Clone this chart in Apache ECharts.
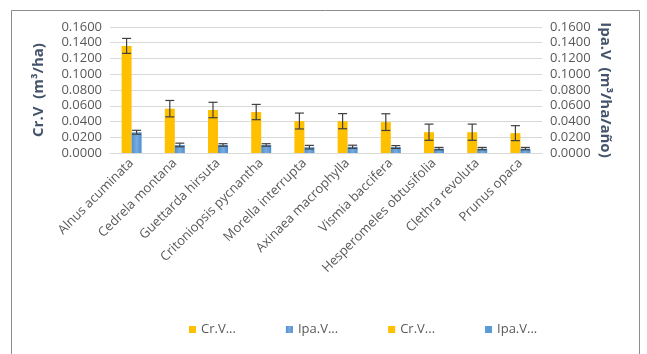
<!DOCTYPE html>
<html>
<head>
<meta charset="utf-8">
<script src="https://cdn.jsdelivr.net/npm/echarts@6/dist/echarts.min.js"></script>
<style>
  html, body { margin: 0; padding: 0; background: #fff; }
  #main { width: 647px; height: 354px; }
</style>
</head>
<body>
<div id="main"></div>
<script>
// species (x axis)
var species = ['Alnus acuminata', 'Cedrela montana', 'Guettarda hirsuta', 'Critoniopsis pycnantha',
  'Morella interrupta', 'Axinaea macrophylla', 'Vismia baccifera', 'Hesperomeles obtusifolia',
  'Clethra revoluta', 'Prunus opaca'];

// Cr.V (m3/ha) - left axis
var crValues = [0.1360, 0.0563, 0.0546, 0.0520, 0.0406, 0.0404, 0.0392, 0.0264, 0.0264, 0.0252];
var crError  = [0.0095, 0.0104, 0.0098, 0.0097, 0.0101, 0.0096, 0.0106, 0.0103, 0.0103, 0.0095];

// Ipa.V (m3/ha/año) - right axis
var ipaValues = [0.0263, 0.0102, 0.0102, 0.0102, 0.0074, 0.0079, 0.0076, 0.0056, 0.0056, 0.0056];
var ipaError  = [0.0025, 0.0023, 0.0016, 0.0016, 0.0023, 0.0020, 0.0018, 0.0015, 0.0015, 0.0015];

var BAR_W = 10;

function errorData(vals, errs) {
  return vals.map(function (v, i) { return [i, v - errs[i], v + errs[i]]; });
}

function errorRender(offset) {
  return function (params, api) {
    var lo = api.coord([api.value(0), api.value(1)]);
    var hi = api.coord([api.value(0), api.value(2)]);
    var x = lo[0] + offset;
    var cap = 4.5;
    var st = { stroke: '#404040', lineWidth: 1.2 };
    return {
      type: 'group',
      children: [
        { type: 'line', shape: { x1: x, y1: hi[1], x2: x, y2: lo[1] }, style: st },
        { type: 'line', shape: { x1: x - cap, y1: hi[1], x2: x + cap, y2: hi[1] }, style: st },
        { type: 'line', shape: { x1: x - cap, y1: lo[1], x2: x + cap, y2: lo[1] }, style: st }
      ]
    };
  };
}

var blueGrad = new echarts.graphic.LinearGradient(0, 0, 1, 0, [
  { offset: 0, color: '#4d8fd0' },
  { offset: 0.5, color: '#78abdf' },
  { offset: 1, color: '#4d8fd0' }
]);

var axisLabelStyle = {
  color: '#595959', fontSize: 13, fontFamily: 'Open Sans',
  formatter: function (v) { return v.toFixed(4); }
};

var chart = echarts.init(document.getElementById('main'));
var option = {
  animation: false,
  textStyle: { fontFamily: 'Open Sans' },
  graphic: [{
    type: 'rect',
    shape: { x: 11.5, y: 10.5, width: 628, height: 360 },
    style: { fill: 'none', stroke: '#8c8c8c', lineWidth: 1 },
    silent: true
  }],
  grid: { left: 110, right: 105, top: 27, bottom: 201 },
  legend: {
    left: 184, top: 318,
    itemWidth: 7, itemHeight: 7, itemGap: 50,
    icon: 'rect',
    textStyle: { color: '#595959', fontSize: 13 },
    formatter: function (n) { return n.indexOf('Cr') === 0 ? 'Cr.V...' : 'Ipa.V...'; },
    data: ['Cr.V (m³/ha)', 'Ipa.V (m³/ha/año)', 'Cr.V (m³/ha) EE', 'Ipa.V (m³/ha/año) EE']
  },
  xAxis: {
    type: 'category',
    data: species,
    axisLine: { lineStyle: { color: '#d9d9d9' } },
    axisTick: { show: false },
    axisLabel: { rotate: 45, color: '#595959', fontSize: 13, margin: 8, interval: 0 }
  },
  yAxis: [{
    type: 'value', min: 0, max: 0.16, interval: 0.02,
    name: 'Cr.V  (m³/ha)', nameLocation: 'middle', nameGap: 64, nameRotate: 90,
    nameMoveOverlap: false,
    nameTextStyle: { color: '#44546a', fontWeight: 'bold', fontSize: 15 },
    axisLine: { show: false }, axisTick: { show: false },
    axisLabel: axisLabelStyle,
    splitLine: { lineStyle: { color: '#d9d9d9' } }
  }, {
    type: 'value', min: 0, max: 0.16, interval: 0.02,
    name: 'Ipa.V  (m³/ha/año)', nameLocation: 'middle', nameGap: 56, nameRotate: -90,
    nameMoveOverlap: false,
    nameTextStyle: { color: '#44546a', fontWeight: 'bold', fontSize: 15 },
    axisLine: { show: false }, axisTick: { show: false },
    axisLabel: axisLabelStyle,
    splitLine: { show: false }
  }],
  series: [{
    name: 'Cr.V (m³/ha)', type: 'bar', yAxisIndex: 0,
    barWidth: BAR_W, barGap: '0%',
    itemStyle: { color: '#ffc000' },
    data: crValues
  }, {
    name: 'Ipa.V (m³/ha/año)', type: 'bar', yAxisIndex: 1,
    barWidth: BAR_W, barGap: '0%',
    itemStyle: { color: blueGrad },
    data: ipaValues
  }, {
    name: 'Cr.V (m³/ha) EE', type: 'custom', yAxisIndex: 0,
    itemStyle: { color: '#ffc000' },
    renderItem: errorRender(-BAR_W / 2),
    encode: { x: 0, y: [1, 2] },
    data: errorData(crValues, crError), z: 5
  }, {
    name: 'Ipa.V (m³/ha/año) EE', type: 'custom', yAxisIndex: 1,
    itemStyle: { color: '#5b9bd5' },
    renderItem: errorRender(BAR_W / 2),
    encode: { x: 0, y: [1, 2] },
    data: errorData(ipaValues, ipaError), z: 5
  }]
};
chart.setOption(option);
</script>
</body>
</html>
